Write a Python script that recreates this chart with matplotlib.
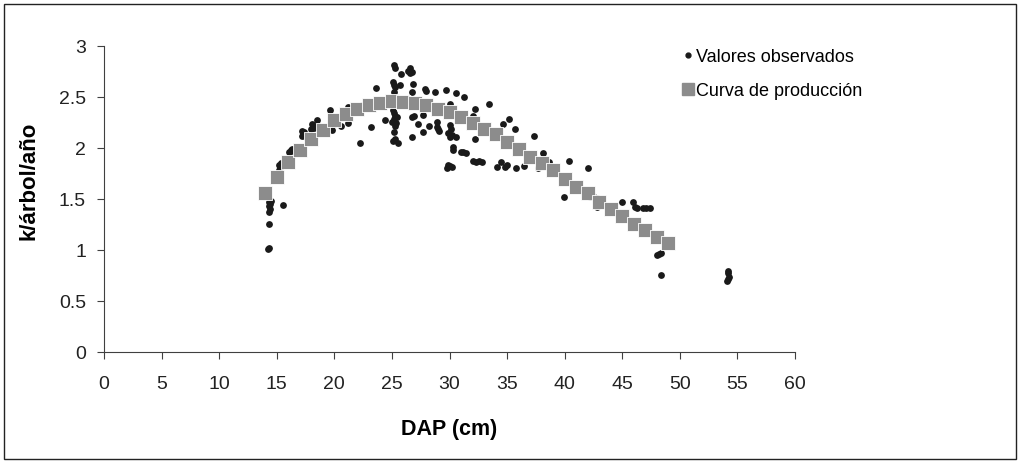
import matplotlib
matplotlib.use('Agg')
import matplotlib.pyplot as plt
from matplotlib.patches import Rectangle
from matplotlib.lines import Line2D

plt.rcParams['font.family'] = ['Liberation Sans', 'DejaVu Sans']

# curva de produccion (DAP entero 14..49)
curva_dap = list(range(14, 50))
curva_k = [1.56, 1.72, 1.86, 1.98, 2.09, 2.18, 2.27, 2.33, 2.385, 2.42,
           2.44, 2.46, 2.455, 2.44, 2.42, 2.38, 2.355, 2.30, 2.25, 2.19,
           2.135, 2.06, 1.99, 1.915, 1.85, 1.78, 1.70, 1.62, 1.555, 1.47,
           1.40, 1.33, 1.26, 1.20, 1.13, 1.065]

# valores observados
obs_dap = [14.2, 14.35, 14.3, 14.3, 14.4, 14.35, 14.45, 14.3, 14.5, 15.5,
           15.1, 15.2, 15.3, 15.2, 15.4, 15.3,
           16.1, 16.2, 16.4, 16.3,
           17.2, 17.3, 17.4, 17.5, 17.2,
           18.0, 18.2, 18.4, 18.1, 18.5,
           19.6, 19.8, 20.0, 20.2, 20.6,
           21.15, 21.2, 22.2, 22.4, 23.2, 23.6,
           24.4, 25.2, 25.25, 25.75, 26.4, 26.55, 26.7, 26.6,
           25.1, 25.2, 25.3, 25.2, 25.7, 26.7, 26.85,
           27.9, 28.0, 28.7, 29.7, 30.55, 31.25, 30.0, 32.2,
           25.1, 25.2, 25.3, 25.2, 25.35, 25.25, 25.4, 25.0,
           26.7, 26.9, 27.7, 27.3, 28.2, 28.9, 29.0, 29.1, 28.9, 27.7, 26.7,
           25.2, 25.25, 25.5, 25.1,
           30.0, 29.9, 30.1, 30.0, 30.2, 30.6, 32.2,
           30.3, 30.3, 31.0, 31.2, 31.4,
           29.8, 30.0, 30.2, 29.9,
           32.0, 32.3, 32.6, 32.8,
           33.45, 32.0, 34.6, 35.2, 35.7, 37.3, 38.1, 40.4, 42.0,
           34.1, 34.5, 34.8, 35.0, 35.8, 36.5, 37.7, 38.65, 39.9,
           42.2, 42.5, 42.8, 42.8, 45.0, 45.9, 46.1, 46.3,
           46.8, 47.1, 47.4, 48.0, 48.2, 48.4, 48.4,
           54.1, 54.2, 54.3, 54.2, 54.15]
obs_k = [1.01, 1.02, 1.26, 1.37, 1.40, 1.43, 1.45, 1.47, 1.48, 1.44,
         1.75, 1.78, 1.80, 1.83, 1.85, 1.82,
         1.96, 1.98, 1.97, 1.99,
         2.12, 2.14, 2.16, 2.11, 2.17,
         2.19, 2.20, 2.22, 2.24, 2.27,
         2.37, 2.18, 2.24, 2.26, 2.22,
         2.40, 2.25, 2.05, 2.42, 2.21, 2.59,
         2.27, 2.81, 2.78, 2.73, 2.76, 2.78, 2.75, 2.74,
         2.65, 2.62, 2.60, 2.55, 2.62, 2.55, 2.63,
         2.58, 2.56, 2.55, 2.57, 2.54, 2.50, 2.43, 2.38,
         2.37, 2.34, 2.31, 2.28, 2.25, 2.22, 2.30, 2.26,
         2.30, 2.31, 2.32, 2.24, 2.22, 2.26, 2.19, 2.17, 2.21, 2.16, 2.11,
         2.16, 2.09, 2.05, 2.07,
         2.11, 2.15, 2.19, 2.23, 2.13, 2.11, 2.09,
         2.01, 1.98, 1.96, 1.96, 1.95,
         1.80, 1.82, 1.81, 1.83,
         1.87, 1.86, 1.87, 1.86,
         2.43, 2.31, 2.24, 2.28, 2.19, 2.12, 1.95, 1.875, 1.80,
         1.81, 1.86, 1.81, 1.83, 1.80, 1.82, 1.80, 1.86, 1.52,
         1.52, 1.53, 1.51, 1.42, 1.47, 1.475, 1.42, 1.41,
         1.415, 1.41, 1.415, 0.95, 0.96, 0.97, 0.755,
         0.70, 0.72, 0.74, 0.77, 0.79]

x_ticks = list(range(0, 61, 5))
y_ticks = [0, 0.5, 1, 1.5, 2, 2.5, 3]
y_ticklabels = ['0', '0.5', '1', '1.5', '2', '2.5', '3']

fig = plt.figure(figsize=(10.22, 4.63), dpi=100)
ax = fig.add_axes([0.1018, 0.2397, 0.6761, 0.6609])

ax.scatter(obs_dap, obs_k, s=24, color='#1a1a1a', linewidths=0, zorder=2)
ax.scatter(curva_dap, curva_k, s=90, marker='s', color='#8c8c8c',
           edgecolors='white', linewidths=0.6, zorder=3)

ax.set_xlim(0, 60)
ax.set_ylim(0, 3)
ax.set_xticks(x_ticks)
ax.set_yticks(y_ticks)
ax.set_yticklabels(y_ticklabels)
ax.tick_params(axis='both', direction='out', length=5, width=0.8,
               color='#404040', labelsize=14, labelcolor='#222222')
ax.tick_params(axis='y', pad=8)
ax.tick_params(axis='x', pad=12)
for side in ('top', 'right'):
    ax.spines[side].set_visible(False)
for side in ('left', 'bottom'):
    ax.spines[side].set_color('#404040')
    ax.spines[side].set_linewidth(0.8)

ax.set_xlabel('DAP (cm)', fontsize=15.5, fontweight='bold', labelpad=19)
ax.set_ylabel('k/árbol/año', fontsize=16, fontweight='bold')
ax.yaxis.set_label_coords(-0.094, 0.56)

handles = [
    Line2D([], [], linestyle='none', marker='o', markersize=3.5,
           color='#1a1a1a', label='Valores observados'),
    Line2D([], [], linestyle='none', marker='s', markersize=8,
           color='#8c8c8c', label='Curva de producción'),
]
fig.legend(handles=handles, loc='upper left', bbox_to_anchor=(0.652, 0.93),
           frameon=False, fontsize=13, handlelength=0.6, handletextpad=0.15,
           labelspacing=0.95)

# rahmen um die ganze figur
fig.patches.append(Rectangle((0.004, 0.008), 0.99, 0.984, transform=fig.transFigure,
                             fill=False, edgecolor='#222222', linewidth=1))

fig.savefig('out.png', dpi=100)
